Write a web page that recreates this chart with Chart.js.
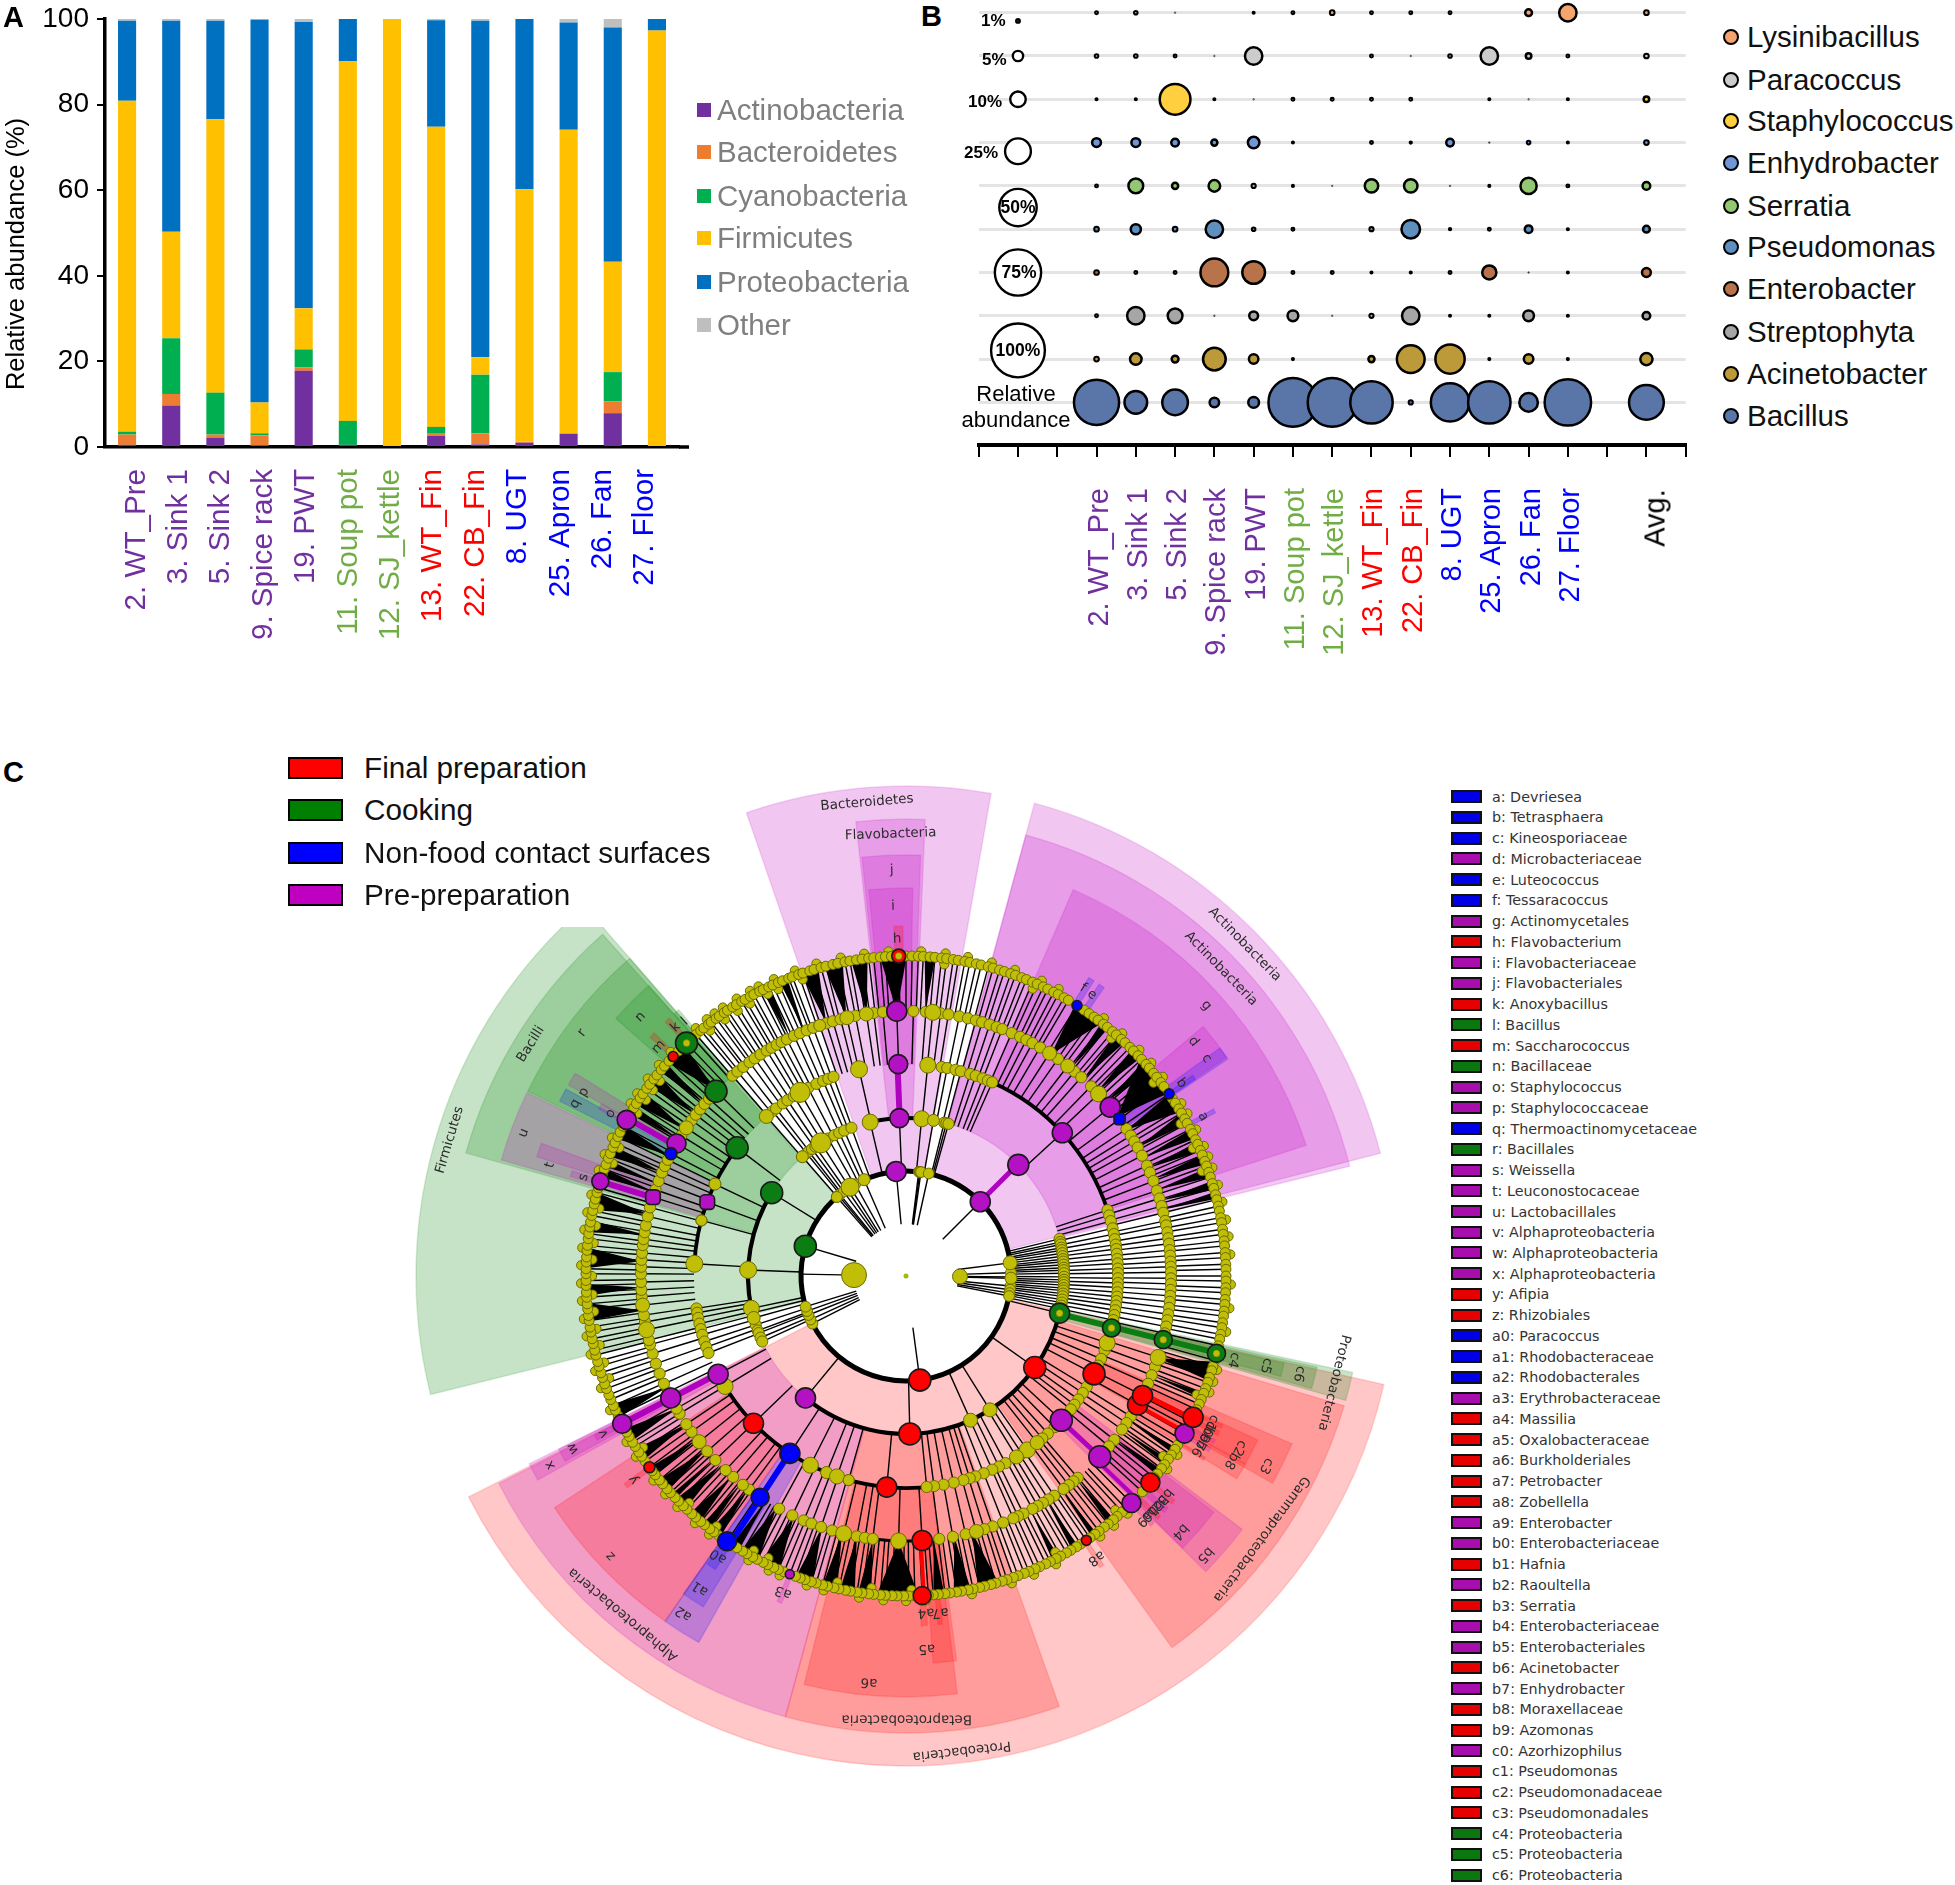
<!DOCTYPE html>
<html><head><meta charset="utf-8">
<script src="https://cdn.jsdelivr.net/npm/chart.js@4"></script>
<style>
html,body{margin:0;padding:0;background:#fff;width:1955px;height:1885px;overflow:hidden}
canvas{position:absolute;display:block}
#c{filter:blur(.5px)}
.t{position:absolute;white-space:nowrap;transform:translateY(-50%);font-family:"Liberation Sans",Arial,sans-serif;line-height:1}
</style></head><body>
<canvas id="a" width="700" height="660" style="left:0;top:0;width:700px;height:660px"></canvas>
<canvas id="b" width="760" height="660" style="left:960px;top:0;width:760px;height:660px"></canvas>
<canvas id="c" width="1000" height="1000" style="left:406px;top:776px;width:1000px;height:1000px"></canvas>
<script>
// ---------- Panel A data ----------
const sampleLabels=["2. WT_Pre","3. Sink 1","5. Sink 2","9. Spice rack","19. PWT","11. Soup pot","12. SJ_kettle","13. WT_Fin","22. CB_Fin","8. UGT","25. Apron","26. Fan","27. Floor"];
const sampleColors=["#7030A0","#7030A0","#7030A0","#7030A0","#7030A0","#70AD47","#70AD47","#FF0000","#FF0000","#0000FF","#0000FF","#0000FF","#0000FF"];
const actinobacteria=[0.5,9.7,2.2,0.3,17.8,0.5,0,2.6,0.6,1,3.1,7.9,0];
const bacteroidetes=[2.4,2.7,0.7,2.4,0.8,0,0,0.5,2.6,0.2,0.1,2.8,0];
const cyanobacteria=[0.7,13,9.8,0.5,4.2,5.6,0,1.6,13.7,0,0,6.8,0];
const firmicutes=[77.3,24.9,63.9,7.2,9.6,84,100,70.1,4.1,59,70.9,25.8,97.3];
const proteobacteria=[18.7,49.3,23,89.4,66.9,9.9,0,24.9,78.6,39.8,25.1,54.7,2.7];
const otherPhyla=[0.4,0.4,0.4,0.2,0.7,0,0,0.3,0.4,0,0.8,2,0];
const phylaNames=["Actinobacteria","Bacteroidetes","Cyanobacteria","Firmicutes","Proteobacteria","Other"];
const phylaColors=["#7030A0","#ED7D31","#00B050","#FFC000","#0070C0","#BFBFBF"];
// ---------- Panel B data (relative abundance %, one value per column) ----------
const bubbleCols=[3,4,5,6,7,8,9,10,11,12,13,14,15,17];
const bubbleLabels=["","","","2. WT_Pre","3. Sink 1","5. Sink 2","9. Spice rack","19. PWT","11. Soup pot","12. SJ_kettle","13. WT_Fin","22. CB_Fin","8. UGT","25. Apron","26. Fan","27. Floor","","",""];
const bubbleLabelColors=["#000","#000","#000","#7030A0","#7030A0","#7030A0","#7030A0","#7030A0","#70AD47","#70AD47","#FF0000","#FF0000","#0000FF","#0000FF","#0000FF","#0000FF","#000","#000","#000"];
const bacillus=[72,20,25,4.5,5.5,84,84,64,1.4,53,64,14,76,44];
const acinetobacter=[1.6,6.2,2.7,20,4.5,0.3,null,2.3,29,32,0.3,4.5,0.3,6.8];
const streptophyta=[0.5,12.5,9.4,0.2,4,5.5,0.05,1.4,12.5,0.3,0.3,5.5,0.3,3.2];
const enterobacter=[1.6,0.5,0.5,29,20,0.5,0.5,0.3,0.3,0.5,8.7,0.1,0.3,4];
const pseudomonas=[1.6,5,1.6,12.5,1.15,0.5,null,1.4,14,0.7,0.5,3.2,0.3,2.7];
const serratia=[0.9,9.4,2.3,6.2,1.4,0.3,0.05,8,8,0.2,0.3,11,0.5,3.2];
const enhydrobacter=[4,4,3.2,2.3,6.2,0.3,null,0.5,0.7,3.2,0.2,1.15,0.3,1.6];
const staphylococcus=[0.3,0.3,35,0.3,0.2,0.5,0.5,0.5,0.5,null,0.3,0.2,0.3,2];
const paracoccus=[1.15,1.15,0.5,0.2,12.5,null,null,0.5,0.2,1.15,12.5,2,0.5,1.6];
const lysinibacillus=[0.5,1.15,0.13,null,0.3,0.5,1.6,0.9,0.5,0.5,null,2.7,12.5,1.6];
const genusNames=["Bacillus","Acinetobacter","Streptophyta","Enterobacter","Pseudomonas","Serratia","Enhydrobacter","Staphylococcus","Paracoccus","Lysinibacillus"];
const genusColors=["#5A76A8","#BC9A39","#A6A6A6","#B8734A","#5F8FBF","#93C872","#7196D6","#FFCF3F","#CCCCCC","#F4A46E"];
const genusSeries=[bacillus,acinetobacter,streptophyta,enterobacter,pseudomonas,serratia,enhydrobacter,staphylococcus,paracoccus,lysinibacillus];
const sizeKey=[1,5,10,25,50,75,100];
const sizeKeyRows=[8.81,8,7,5.8,4.5,3,1.2];
// ---------- Panel C data (angles in degrees, clockwise from east) ----------
const phylumWedges=[[166,229,"G"],[251,280,"M"],[285.2,345.5,"M"],[12.8,153.2,"R"]];
const classWedges=[[195.6,228.4,"G"],[263.7,272.4,"M"],[285.2,346.1,"M"],[105.3,153,"M"],[70.4,105.3,"R"],[16.5,54.4,"R"],[12.2,15.8,"G"]];
const orderWedges=[[206,229,"G"],[196,205.8,"M"],[264,272,"M"],[293.4,341.9,"M"],[124.9,146.6,"R"],[119.5,124.9,"B"],[151,153.5,"M"],[83,104,"R"],[37,44.6,"M"],[23.5,29.5,"R"],[12.5,15.5,"G"]];
const familyWedges=[[221.6,228.5,"G"],[209.5,211.5,"M"],[206.8,208.8,"B"],[197.9,200,"M"],[264.5,271,"M"],[320,325.7,"M"],[324,326,"B"],[121.5,125,"B"],[151.5,153.5,"M"],[82.5,86,"R"],[37.5,44.5,"M"],[25,29,"R"],[29,31.5,"R"],[13,15,"G"]];
const genusWedges=[[268,269.5,"R"],[228.5,229.5,"G"],[226.5,227.5,"R"],[223,224,"R"],[208.5,209.5,"M"],[196.5,197.5,"M"],[303.5,304.5,"B"],[301.5,302.5,"B"],[325,325.8,"B"],[331.5,332.2,"B"],[142.8,143.6,"R"],[123,124.6,"B"],[152,153,"M"],[110.8,111.6,"M"],[86.5,87.5,"R"],[84,84.8,"R"],[55.6,56.4,"R"],[44.8,45.6,"M"],[39.8,40.6,"R"],[41.5,42.5,"M"],[43.3,44.1,"R"],[31.2,31.8,"R"],[29.4,30.1,"M"],[26.3,27.1,"R"],[27.9,28.6,"M"],[25.2,25.8,"R"]];
const wedgeLabels=[["Bacteroidetes",475,265.3],["Flavobacteria",442,268],["j",406,268],["i",370,268],["h",337,268.5],["Actinobacteria",474,315.6],["Actinobacteria",440,315.7],["g",404,318],["d",371,320.8],["c",371,324.1],["b",336,325],["a",337,331.8],["f",338,301.6],["e",337,303.5],["Firmicutes",476,196.6],["Bacilli",441,211.7],["r",405,216.9],["n",371,224.3],["m",337,222.8],["k",339,227.2],["l",337,229],["p",371,209.7],["q",373,207.5],["o",337,208.8],["u",408,200.5],["t",373,197.3],["s",337,197],["Proteobacteria",478,83.3],["Proteobacteria",441,14],["c4",338,14.4],["c5",371,14],["c6",405,14],["Alphaproteobacteria",441,129.9],["Betaproteobacteria",443,89.9],["Gammaproteobacteria",442,36.5],["z",407,136.5],["a0",337,123.8],["a1",374,123.4],["a2",404,123.4],["a3",339,111.2],["y",340,143.2],["x",403,152],["w",375,152.6],["v",341,152.5],["a6",408,95.2],["a5",373,86.8],["a4",337,86.6],["a7",338,84.2],["a8",340,56],["b5",409,43],["b4",375,43],["a9",340,45.5],["b0",340,44.3],["b1",340,43],["b2",340,41.8],["b3",340,40.4],["b6",339,30.5],["b7",339,29.2],["b9",339,27.8],["c0",339,26.8],["c1",339,25.6],["c3",407,27.8],["c2",375,27.3],["b8",374,29.6]];
const thickArcs=[[105,13,352,5],[158,13.6,129.5,4.2],[158,168,212,4.2],[158,257,276,4],[212,14,152.4,3.8],[212,183,217,3.8],[212,293.9,342,3.8],[265,87,91.6,3],[265,91.6,97,3]];
const thickEdges=[[105,158,315,"#B000C0",5],[158,212,267.7,"#B000C0",6],[265,320,197.2,"#B000C0",6],[265,320,209.5,"#B000C0",6],[212,320,152.5,"#B000C0",6],[212,265,43,"#B000C0",5],[265,320,44,"#B000C0",4],[212,320,123.3,"#0000FF",6],[158,320,13.9,"#0B7D12",6],[265,320,26.5,"#FF0000",5],[265,320,29.2,"#FF0000",4],[265,320,86.8,"#FF0000",4]];
const blackFans=[[91.6,88,95],[97.2,96.3,98.5],[100.7,99.3,101.8],[104,102.5,105],[108.5,107,110],[115,113.4,116.8],[119.2,117.6,120.9],[122,121.4,122.9],[126.5,125.5,127.5],[128.5,127.8,129.3],[131,130,132.2],[134.5,133.5,135.8],[136.5,136,137],[139,138,140.4],[142,141.5,143.2],[146,145,147.3],[150,149,151.4],[155,153.8,156.3],[172.5,172,175],[177.5,176.5,178.5],[183.2,181.5,185],[189,187.9,190],[193.5,192,195],[198.5,198,199.5],[200.5,200,201.3],[203,202,204],[207,205.5,208],[211,210.5,212],[213.5,212.5,215],[217.5,216.5,219],[220.5,219.8,221.5],[224.3,222,226],[268,265.5,270],[261.5,260.2,263],[257,255.3,258.5],[252.5,251,254],[244,243.3,244.8],[247.5,246.8,248.2],[274.2,273.4,275.2],[303.2,302,307.5],[308.5,307.7,309.2],[312,311,313],[316,315,317],[319,318,320],[323,317.5,325],[326.5,325.4,329],[331,329.5,331.5],[333.5,332.8,334.5],[336,335.3,337],[338.5,337.8,339.5],[341,340.3,342],[343.5,342.8,344.3],[345.5,344.8,346],[18,15.7,19],[22,21.5,22.5],[33,32.5,33.6],[35.5,35,36],[37.8,37.2,38.4],[50,49.5,50.7],[54,53.5,54.5],[58,57.5,58.7],[62,61.5,62.7],[75.5,73.4,76.9],[79.5,78.4,81.3],[84,83.2,85]];
const phylumNodes=[228.8,230,231,233.5,235.7,237.8,241,246.5,277,277.6,278.2,282.5,352.8,1.2,358.2,5.5,7.5,9.4,11,153,155.5,158.2,160.5,163];
const classNodes=[229,231,232,233.5,235,237.4,240.5,243,245,247,249.8,256.9,275.7,280,284,284.8,285.6,346.4,347.6,348.5,349.7,350.6,351.7,352.8,353.9,354.8,355.9,357,357.9,359,0.3,1.4,2.3,3.3,4.4,5.3,6.4,7.4,8.6,9.7,10.8,12,57.9,65.9,168.2,166.5,164.6,162,159.8,158.8,157,155.5,182.2];
const orderNodes=[228.8,231,232.2,234.5,236,238,240,242.5,245,247,248.5,250,257.2,275.9,279.7,281.2,283.5,285,287.6,289.2,291.2,292.7,294,341.9,343.4,345,347,348.6,350,351.5,352.7,354,355.4,356.6,358,359.2,0.6,1.9,3.1,4.4,5.6,6.8,8,9.3,10.6,12,183.3,195.2,205.7,171.2,170,168.6,167,165.5,163.9,162,160.4,158.7,148.6,18.4,20.5,23,25,31.5,33.5,35.6,37.4,39,45.5,48,50,51.8,55.1,56.9,58.6,62,64,66,68.5,70.9,72.5,74.3,77,79.8,82.4,84.4,116.8,112,109,105.7];
const familyNodes=[229.1,230.5,232.1,233.8,235.2,236.7,238.3,239.5,240.8,242,243.3,245,246.4,248,249.5,251,252.5,254,255.7,257.1,259,261.4,263,265,271.6,274.3,275.8,277.5,279.2,281.6,283.5,285.3,286.7,288.4,290,291.3,293.5,295.5,297,298.5,300.4,302.8,305,307.6,309.5,311.4,314.3,316.6,326.3,328,329.5,331,333,335.4,337,339,341.2,343,344.7,346.2,348,349,350.5,351.8,353,354.4,355.6,356.9,358,359.2,0.5,1.7,3,4.3,5.6,6.9,8.3,9.6,11,12.5,17.9,20,22,24,32,33.7,35.4,38.2,40,49.6,50.8,52.1,53.5,56,57.5,58.9,60.2,61.5,63.7,65,66.1,68.5,70.9,72.8,74.6,77,79.8,82.8,118.6,115.4,112.7,110.9,108.7,106.2,103.6,100.7,98.9,97.2,91.6,126.3,128,130.7,132.9,136,138.6,141.3,144,146,148.7,150,154,156,158.4,160.7,163,165,166,168.3,170,171.5,173.7,175.5,177,178.7,180.5,182,183.5,185,186.7,188,189.5,191,193,195,199,201,203,204.5,206,212,214,216,217.5,219,220.5,222];
const genusNodes=[228.2,229,230.1,230.8,231.9,232.5,233.6,234.3,235.4,236.1,237.2,238,239.1,239.8,240.9,241.6,242.8,243.5,244.6,245.4,246.5,247.3,248.5,249.2,250.4,251.2,252.5,253.3,254.6,255.5,256.8,257.7,259,259.9,261.1,262.1,263.3,264.2,265.4,266.3,267.4,270,271.1,272.2,273.1,274.3,275.2,276.4,277.3,278.5,279.4,280.6,281.5,282.7,283.6,284.9,285.8,287,287.9,289.1,290,291.2,292.1,293.3,294.2,295.4,296.3,297.5,298.4,299.6,300.5,303.8,304.9,306,306.9,308.1,309,310.2,311.1,312.3,313.2,314.4,315.3,316.5,317.4,318.6,319.5,320.7,321.6,322.8,323.7,326.4,327.3,328.5,329.4,330.6,331.5,332.7,333.6,334.8,335.7,336.9,337.8,339,339.9,341.1,342,343.2,344.1,345.3,346.2,347.4,348.3,349.5,350.4,351.6,352.5,353.7,354.6,355.8,356.7,357.9,358.8,0,0.9,2.1,3,4.2,5.1,6.3,7.2,8.4,9.3,10.5,11.4,12.6,15.3,16.4,17.2,18.5,19.4,20.6,21.5,22.7,23.6,24.7,27.1,28.2,30.7,31.9,32.8,34,34.9,36.1,37,38.2,39.1,41.5,42.4,46.6,47.5,48.7,49.6,50.8,51.7,52.9,53.8,54.9,56.9,57.8,59,59.9,61.1,62,63.2,64.1,65.3,66.2,67.4,68.3,69.5,70.4,71.6,72.5,73.7,74.6,75.8,76.7,77.9,78.8,80,80.9,82.1,83,84.2,85.1,86,88.4,89.5,90.4,91.6,92.5,93.7,94.6,95.8,96.7,97.9,98.8,100,100.9,102.1,103,104.2,105.1,106.3,107.2,108.4,109.3,110.2,112.4,113.5,114.4,115.6,116.5,117.7,118.6,119.8,120.7,121.9,125.8,126.9,127.8,129,129.9,131.1,132,133.2,134.1,135.3,136.2,137.4,138.3,139.5,140.4,141.6,142.5,144.6,145.7,146.6,147.8,148.7,149.9,150.8,154.1,155.2,156.1,157.3,158.2,159.4,160.3,161.5,162.4,163.6,164.5,165.7,166.6,167.8,168.7,169.9,170.8,172,172.9,174.1,175,176.2,177.1,178.3,179.2,180.4,181.3,182.5,183.4,184.6,185.5,186.7,187.6,188.8,189.7,190.9,191.8,193,193.9,195.1,196,198.4,199.5,200.4,201.6,202.5,203.7,204.6,205.8,206.7,207.9,210.6,211.7,212.6,213.8,214.7,215.9,216.8,218,218.9,220.1,221,222.2,224.7,225.6];
// nodes lying just outside / inside the mean outer ring (the ring is visibly wobbly)
const genusOuterRow=[229.7,232.2,233.9,235.7,238.6,241.3,243,246,250,254,258.4,262.6,266.9,272.7,277,281,285.3,289.6,294.7,298,307.5,311.7,315.9,319,322.2,327.9,330,333.2,336.4,338.4,340.5,343.7,346.8,350,353,356.2,1.5,5.7,9.9,16.8,19,21,33.4,36.5,47,50.2,53.3,62.5,66.8,71,78.3,86.5,90,94,98.3,104.7,107.8,112.9,115,119,127.3,130.5,134.7,137.8,141,146.2,149.3,155.6,159.8,163,166,169.3,172.4,175.6,178.7,181.9,185,188.2,191.3,194.5,199,202,205.2,212.1,214.2,217.4,220.5,223.6];
const genusInnerRow=[231.4,234.8,237.6,240.2,243.9,216.3,218.4,214.1,211.2,204.1,201,192.4,189.2,186,183,180,176.6,173.5,170.3,167.3,164,161,146.9,133.7,127.1,119,116,102.6,96.3,89,61.6,48.2,35,22.2,340.5,336,331,322,310.8,293.8,277,246,250.8];
const bigYellow=[[105,237.8,9],[105,352.8,7],[105,1.2,6],[105,246.5,6],[105,228.8,5.5],[158,237.4,10],[158,229,6],[158,256.9,8],[158,275.7,8],[158,280,6],[158,182.2,8.5],[158,57.9,7],[158,65.9,7],[158,168.2,8],[158,164.6,6.5],[212,240,10],[212,228.8,7],[212,257.2,8.5],[212,275.9,8],[212,183.3,8.5],[212,195.2,5.5],[212,205.7,6],[212,148.6,8],[212,18.4,8],[212,116.8,8],[212,112,6],[212,109,7.5],[212,105.7,5.5],[212,55.1,8],[212,51.8,7],[212,58.6,7],[265,257.1,7],[265,261.4,7],[265,251,6],[265,275.8,8],[265,307.6,7],[265,302.8,7],[265,316.6,8],[265,17.9,8],[265,74.6,7],[265,103.6,8],[265,91.6,8],[265,141.3,7],[265,168.3,8],[265,173.7,7],[265,214,7]];
// radius level, angle, size, colour key, square flag
const markedNodes=[[105,196.5,11,"G",0],[105,264.6,10,"M",0],[105,315,10,"M",0],[105,82.4,11,"R",0],[158,211.8,11,"G",0],[158,267.6,9.5,"M",0],[158,315.3,10.5,"M",0],[158,129.5,10,"M",0],[158,88.6,11,"R",0],[158,35.4,11,"R",0],[158,13.6,10,"G",0],[212,217.2,11,"G",0],[212,200.4,8.5,"M",1],[212,267.9,9.5,"M",0],[212,317.5,10,"M",0],[212,152.4,10,"M",0],[212,136,10,"R",0],[212,123.2,10,"B",0],[212,95.2,10,"R",0],[212,27.5,11,"R",0],[212,42.9,11,"M",0],[212,14.2,9,"G",0],[265,224.2,11,"G",0],[265,210,9.5,"M",0],[265,207.5,6,"B",0],[265,197.3,8.5,"M",1],[265,268,10,"M",0],[265,320.4,10,"M",0],[265,323.7,6.5,"B",1],[265,152.6,10,"M",0],[265,123.4,9,"B",0],[265,86.5,10,"R",0],[265,43,11,"M",0],[265,29.1,10,"R",0],[265,26.8,10,"R",0],[265,13.9,9,"G",0],[320,226.7,11,"G",0],[320,223.3,5,"R",0],[320,209.2,9.5,"M",0],[320,197.2,8.5,"M",0],[320,268.7,7,"R",0],[320,302.3,5,"B",0],[320,325.3,5,"B",0],[320,152.5,9.5,"M",0],[320,124,9.5,"B",0],[320,143.3,5.5,"R",0],[320,111.3,4.5,"M",0],[320,87.1,9,"R",0],[320,55.7,5,"R",0],[320,45.2,9.5,"M",0],[320,40.2,9.5,"R",0],[320,29.5,9.5,"M",0],[320,26.2,10,"R",0],[320,14,9,"G",0]];
const innerDots=[[158,13.6],[212,14.2],[265,13.9],[320,14],[320,226.7],[320,268.7]];
const legendGroups=["Final preparation","Cooking","Non-food contact surfaces","Pre-preparation"];
const legendGroupColors=["#FF0000","#008000","#0000FF","#C000C0"];
const taxaNames=["a: Devriesea","b: Tetrasphaera","c: Kineosporiaceae","d: Microbacteriaceae","e: Luteococcus","f: Tessaracoccus","g: Actinomycetales","h: Flavobacterium","i: Flavobacteriaceae","j: Flavobacteriales","k: Anoxybacillus","l: Bacillus","m: Saccharococcus","n: Bacillaceae","o: Staphylococcus","p: Staphylococcaceae","q: Thermoactinomycetaceae","r: Bacillales","s: Weissella","t: Leuconostocaceae","u: Lactobacillales","v: Alphaproteobacteria","w: Alphaproteobacteria","x: Alphaproteobacteria","y: Afipia","z: Rhizobiales","a0: Paracoccus","a1: Rhodobacteraceae","a2: Rhodobacterales","a3: Erythrobacteraceae","a4: Massilia","a5: Oxalobacteraceae","a6: Burkholderiales","a7: Petrobacter","a8: Zobellella","a9: Enterobacter","b0: Enterobacteriaceae","b1: Hafnia","b2: Raoultella","b3: Serratia","b4: Enterobacteriaceae","b5: Enterobacteriales","b6: Acinetobacter","b7: Enhydrobacter","b8: Moraxellaceae","b9: Azomonas","c0: Azorhizophilus","c1: Pseudomonas","c2: Pseudomonadaceae","c3: Pseudomonadales","c4: Proteobacteria","c5: Proteobacteria","c6: Proteobacteria"];
const taxaGroups="BBBMBBMRMMRGRGMMBGMMMMMMRRBBBMRRRRRMMRMRMMRMRRMRRRGGG";

const SANS='"Liberation Sans",Arial,sans-serif', DEJA='"DejaVu Sans",sans-serif';
Chart.defaults.animation=false; Chart.defaults.responsive=false; Chart.defaults.devicePixelRatio=1;
Chart.defaults.font.family=SANS;
function lab(text,x,y,css){const e=document.createElement('div');e.className='t';e.textContent=text;e.style.left=x+'px';e.style.top=y+'px';e.style.cssText+=';'+(css||'');document.body.appendChild(e);return e;}
function box(x,y,w,h,css){const e=document.createElement('div');e.style.cssText='position:absolute;box-sizing:border-box;left:'+x+'px;top:'+y+'px;width:'+w+'px;height:'+h+'px;'+css;document.body.appendChild(e);return e;}
const noPadX=s=>{s.paddingLeft=0;s.paddingRight=0;};
const noPadY=s=>{s.paddingTop=0;s.paddingBottom=0;};

// ---------- Panel A ----------
const phylaSeries=[actinobacteria,bacteroidetes,cyanobacteria,firmicutes,proteobacteria,otherPhyla];
new Chart(document.getElementById('a'),{type:'bar',
 data:{labels:sampleLabels,datasets:phylaSeries.map((d,i)=>({label:phylaNames[i],data:d,backgroundColor:phylaColors[i],barPercentage:0.41,categoryPercentage:1,borderWidth:0}))},
 options:{layout:{autoPadding:false,padding:{top:19,right:21,left:0,bottom:0}},plugins:{legend:{display:false},tooltip:{enabled:false}},
  scales:{x:{stacked:true,weight:0,grid:{drawOnChartArea:false,drawTicks:false},border:{color:'#000',width:3.5},
    ticks:{display:false},afterFit:s=>{s.height=0;noPadX(s);}},
   // the sample names sit on a slightly tighter pitch than the bars, so they have an axis of their own
   names:{type:'linear',axis:'x',position:'bottom',weight:1,offset:false,min:-0.743,max:12.795,grid:{display:false,drawTicks:false,offset:false},border:{display:false},
    ticks:{stepSize:1,includeBounds:false,autoSkip:false,minRotation:90,maxRotation:90,padding:22,font:{size:29.6},color:c=>sampleColors[c.tick.value],callback:v=>sampleLabels[v]},afterFit:s=>{s.height=213;noPadX(s);}},
   y:{stacked:true,min:0,max:100,grid:{drawOnChartArea:false,tickLength:8,color:'#000',lineWidth:2},border:{color:'#000',width:3.5},
    ticks:{stepSize:20,padding:8,font:{size:28},color:'#000'},afterFit:s=>{s.width=105;noPadY(s);}}}},
 plugins:[{id:'axisTail',afterDatasetsDraw(ch){const c=ch.ctx,a=ch.chartArea;c.save();c.strokeStyle='#000';c.lineWidth=3.5;c.beginPath();c.moveTo(a.right,a.bottom);c.lineTo(689,a.bottom);c.stroke();c.restore();}}]});
lab('Relative abundance (%)',16,254,'transform:translate(-50%,-50%) rotate(-90deg);font-size:25.5px;color:#000');
phylaNames.forEach((n,i)=>{const y=[110,152,196,238,282,325][i];box(697,y-7,14,14,'background:'+phylaColors[i]);lab(n,717,y,'font-size:29.5px;color:#7f7f7f');});
lab('A',3,17,'font-size:29px;font-weight:bold');lab('B',921,16,'font-size:29px;font-weight:bold');lab('C',3,772,'font-size:29px;font-weight:bold');

// ---------- Panel B ----------
const rOf=v=>28*Math.sqrt(v/100);
const bubbleSets=genusSeries.map((s,i)=>({label:genusNames[i],backgroundColor:genusColors[i],borderColor:'#000',clip:false,
  data:s.map((v,k)=>v==null?null:({x:bubbleCols[k],y:i,v:v})).filter(Boolean),
  radius:c=>{const R=rOf(c.raw.v);return Math.max(0.7,R-(R>2?1.2:0.5));},
  borderWidth:c=>{const R=rOf(c.raw.v);return R>3.7?2.5:R>1.5?2:0.6;}}));
bubbleSets.push({label:'size key',backgroundColor:'#fff',borderColor:'#000',clip:false,
  data:sizeKey.map((v,k)=>({x:1,y:sizeKeyRows[k],v:v})),
  radius:c=>{const R=rOf(c.raw.v);return Math.max(1.5,R-1.1);},borderWidth:c=>c.raw.v==1?2.5:2.4});
new Chart(document.getElementById('b'),{type:'bubble',data:{datasets:bubbleSets},
 options:{layout:{autoPadding:false,padding:{left:18.7,right:34.3,top:0,bottom:0}},plugins:{legend:{display:false},tooltip:{enabled:false}},
  scales:{x:{type:'linear',min:0,max:18,grid:{drawOnChartArea:false,tickLength:12,color:'#000',lineWidth:2},border:{color:'#000',width:4},
    ticks:{stepSize:1,autoSkip:false,minRotation:90,maxRotation:90,padding:31,labelOffset:3,font:{size:29},color:c=>bubbleLabelColors[c.index],callback:(v)=>bubbleLabels[v]},afterFit:s=>{s.height=215;noPadX(s);}},
   y:{type:'linear',min:-0.984,max:9.293,grid:{color:'#E4E4E4',lineWidth:3,drawTicks:false},border:{display:false},
    ticks:{display:false,stepSize:1,includeBounds:false},afterFit:s=>{s.width=0;noPadY(s);}}}}});
lab('Avg.',1654.5,518,'font-size:29px;color:#000;transform:translate(-50%,-50%) rotate(-90deg)');
[['1%',981,20],['5%',982,59],['10%',968,101],['25%',964,152]].forEach(a=>lab(a[0],a[1],a[2],'font-size:17px;font-weight:bold'));
[['50%',1018,207.5],['75%',1019,272.7],['100%',1018,351]].forEach(a=>lab(a[0],a[1],a[2],'font-size:17.5px;font-weight:bold;transform:translate(-50%,-50%)'));
lab('Relative',1016,394,'font-size:22px;transform:translate(-50%,-50%)');lab('abundance',1016,420,'font-size:22px;transform:translate(-50%,-50%)');
[...genusNames].reverse().forEach((n,i)=>{const y=[37,80,121,163,206,247,289,332,374,416][i];const col=genusColors[9-i];box(1723,y-8,16,16,'border-radius:50%;border:2.5px solid #000;background:'+col);lab(n,1747,y,'font-size:29.5px;color:#111');});

// ---------- Panel C ----------
const D=Math.PI/180;
const polar=(r,a)=>({x:r*Math.cos(a*D),y:r*Math.sin(a*D)});
const hue={M:'192,0,192',R:'255,0,0',G:'0,128,0',B:'0,0,255'};
const solid={M:'#B511C4',R:'#FF0000',G:'#0B7D12',B:'#0000FF'};
const innerOf={105:52,158:105,212:158,265:212,320:265};
const levels=[[105,490,phylumWedges,.22],[158,457,classWedges,.21],[212,421,orderWedges,.21],[265,388,familyWedges,.2],[320,350,genusWedges,.22]];
const ringLists=[[105,phylumNodes],[158,classNodes],[212,orderNodes],[265,familyNodes],[320,genusNodes]];
const clado={id:'clado',beforeDatasetsDraw(ch){
  const c=ch.ctx,sx=ch.scales.x,sy=ch.scales.y,cx=sx.getPixelForValue(0),cy=sy.getPixelForValue(0),u=sx.getPixelForValue(1)-cx;
  const pt=(r,a)=>{const p=polar(r,a);return [sx.getPixelForValue(p.x),sy.getPixelForValue(p.y)];};
  c.save();
  levels.forEach(([r0,r1,list,al])=>list.forEach(([a0,a1,k])=>{
    c.beginPath();c.arc(cx,cy,r1*u,a0*D,a1*D);c.arc(cx,cy,r0*u,a1*D,a0*D,true);c.closePath();
    c.fillStyle='rgba('+hue[k]+','+al+')';c.fill();c.strokeStyle='rgba('+hue[k]+',.15)';c.lineWidth=1.5;c.stroke();}));
  c.font='13.5px '+DEJA;c.fillStyle='#2b2b2b';c.textAlign='center';c.textBaseline='middle';
  wedgeLabels.forEach(([t,r,a])=>{const [x,y]=pt(r,a);c.save();c.translate(x,y);c.rotate((a+90)*D);c.fillText(t,0,0);c.restore();});
  c.strokeStyle='#000';c.lineWidth=1.4;c.lineCap='butt';
  const line=(r0,r1,a)=>{const p=pt(r0,a),q=pt(r1,a);c.beginPath();c.moveTo(p[0],p[1]);c.lineTo(q[0],q[1]);c.stroke();};
  ringLists.forEach(([r,l])=>l.forEach(a=>line(innerOf[r],r,a)));
  markedNodes.forEach(([r,a])=>line(innerOf[r],r,a));
  line(52,105,181);line(54,105,0.5);
  c.fillStyle='#000';
  blackFans.forEach(([ap,b0,b1])=>{const p=pt(265,ap),q=pt(316,b0),s=pt(316,b1);c.beginPath();c.moveTo(p[0],p[1]);c.lineTo(q[0],q[1]);c.lineTo(s[0],s[1]);c.closePath();c.fill();});
  thickArcs.forEach(([r,a0,a1,w])=>{c.lineWidth=w;c.beginPath();c.arc(cx,cy,r*u,a0*D,a1*D);c.stroke();});
  thickEdges.forEach(([r0,r1,a,col,w])=>{c.strokeStyle=col;c.lineWidth=w;line(r0,r1,a);});
  c.restore();
}};
const yellow='#C0BE06',yellowEdge='#6B6A00';
const ySet=(list,r,rad,order)=>({data:list.map(a=>polar(r,a)),pointRadius:rad,backgroundColor:yellow,borderColor:yellowEdge,pointBorderWidth:1,showLine:false,order:order,clip:false});
const cDatasets=[
 ySet(genusInnerRow,314,4.6,11),ySet(genusOuterRow,325,4.6,10),ySet(genusNodes,320,5,9),ySet(familyNodes,265,5.6,8),ySet(orderNodes,212,5.6,7),ySet(classNodes,158,5.6,6),ySet(phylumNodes,105,5.4,5),
 {data:bigYellow.map(n=>polar(n[0],n[1])),pointRadius:bigYellow.map(n=>n[2]),backgroundColor:yellow,borderColor:yellowEdge,pointBorderWidth:1,showLine:false,order:4,clip:false},
 {data:[polar(52,181),polar(54,0.5),polar(0,0)],pointRadius:[12.5,7.5,2.5],backgroundColor:[yellow,yellow,'#9DBB10'],borderColor:yellowEdge,pointBorderWidth:[1,1,0],showLine:false,order:3,clip:false},
 {data:markedNodes.map(n=>polar(n[0],n[1])),pointRadius:markedNodes.map(n=>n[2]),backgroundColor:markedNodes.map(n=>solid[n[3]]),borderColor:'#1a1a1a',pointBorderWidth:1.6,pointStyle:markedNodes.map(n=>n[4]?'rectRounded':'circle'),showLine:false,order:2,clip:false},
 {data:innerDots.map(n=>polar(n[0],n[1])),pointRadius:3.5,backgroundColor:yellow,borderColor:yellowEdge,pointBorderWidth:.5,showLine:false,order:1,clip:false}];
new Chart(document.getElementById('c'),{type:'scatter',data:{datasets:cDatasets},
 options:{layout:{autoPadding:false,padding:0},plugins:{legend:{display:false},tooltip:{enabled:false}},
  scales:{x:{type:'linear',min:-500,max:500,display:false},y:{type:'linear',min:-500,max:500,reverse:true,display:false}}},plugins:[clado]});
// white area behind the group legend
box(270,745,333,182,'background:#fff');
legendGroups.forEach((n,i)=>{const y=[768,810,853,895][i];box(288,y-11,55,22,'border:2px solid #000;background:'+legendGroupColors[i]);lab(n,364,y,'font-size:29.7px;color:#111');});
const swatch={M:'#A80DAE',R:'#E60000',G:'#0A770F',B:'#0000E6'};
taxaNames.forEach((n,i)=>{const y=796.7+i*20.74;box(1451,y-6.5,31,13,'border:2px solid #111;background:'+swatch[taxaGroups[i]]);lab(n,1492,y,'font-family:'+DEJA.replace(/"/g,"'")+';font-size:14.3px;color:#333');});
</script>
</body></html>
